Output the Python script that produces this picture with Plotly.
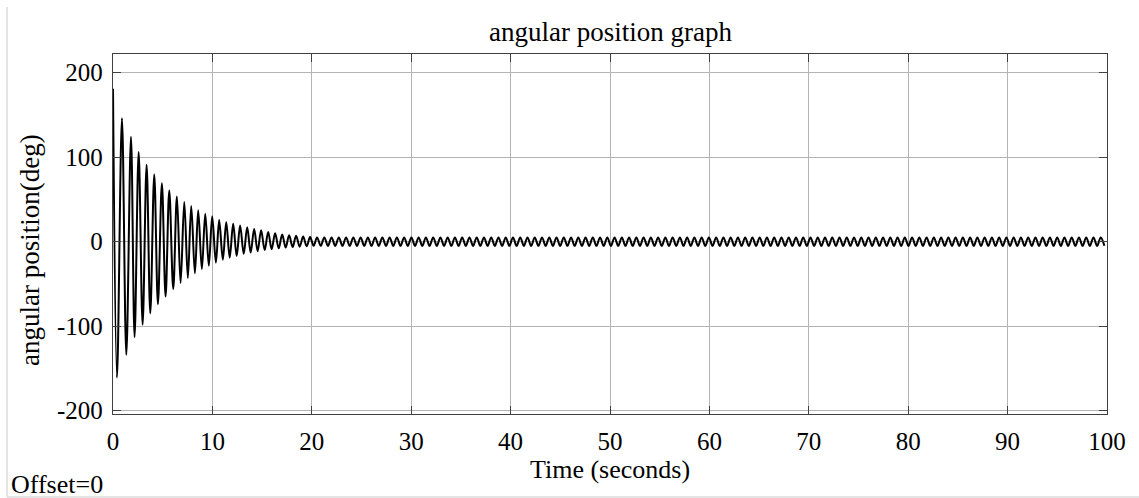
import plotly.graph_objects as go

# ---- data ----
start_t = [0.0]
start_val = [181.0]

# decaying part: peak / trough times (s) and values (deg)
trough_t = [0.40, 1.34, 2.17, 2.98, 3.75, 4.52, 5.29, 6.06, 6.80, 7.53, 8.24, 8.94, 9.64, 10.35,
            11.05, 11.74, 12.44, 13.15, 13.85, 14.55, 15.26, 15.96, 16.67, 17.37, 18.07, 18.78,
            19.48, 20.18]
trough_val = [-161, -134, -113, -98.5, -85, -74, -65, -56, -49, -43, -37.5, -32.5, -28.5, -25,
              -21.5, -19, -17, -14.5, -13, -11.5, -10, -9, -8, -7, -6.5, -6, -5.5, -5]
peak_t = [0.90, 1.81, 2.58, 3.38, 4.15, 4.92, 5.66, 6.43, 7.17, 7.87, 8.57, 9.28, 9.98, 10.68,
          11.39, 12.09, 12.79, 13.50, 14.20, 14.90, 15.61, 16.31, 17.02, 17.72, 18.42, 19.13,
          19.83, 20.53]
peak_val = [146, 124, 106, 91, 79.5, 69, 60.5, 53.5, 47, 42, 37, 33, 30, 25.5, 23, 21, 19, 17,
            15, 13.5, 11.5, 10, 8.5, 7.5, 7, 6, 5.5, 5]

# steady-state oscillation after ~20.5 s: alternating extrema (deg)
steady_half_period = 0.365
steady_vals = [
    -5.0, 5.0, -5.0, 5.0, -5.0, 5.0, -5.0, 5.0, -5.0, 5.0, -5.0, 5.0, -5.0, 5.0, -5.0, 5.0, -5.0, 5.0,
    -5.0, 5.0, -5.0, 5.0, -5.0, 5.0, -5.0, 5.0, -5.0, 5.0, -5.0, 5.0, -5.0, 5.0, -5.0, 5.0, -5.0, 5.0,
    -5.0, 5.0, -5.0, 5.0, -5.0, 5.0, -5.0, 5.0, -5.0, 5.0, -5.0, 5.0, -5.0, 5.0, -5.0, 5.0, -5.0, 5.0,
    -5.0, 5.0, -5.0, 5.0, -5.0, 5.0, -5.0, 5.0, -5.0, 5.0, -5.0, 5.0, -5.0, 5.0, -5.0, 5.0, -5.0, 5.0,
    -5.0, 5.0, -5.0, 5.0, -5.0, 5.0, -5.0, 5.0, -5.0, 5.0, -5.0, 5.0, -5.0, 5.0, -5.0, 5.0, -5.0, 5.0,
    -5.0, 5.0, -5.0, 5.0, -5.0, 5.0, -5.0, 5.0, -5.0, 5.0, -5.0, 5.0, -5.0, 5.0, -5.0, 5.0, -5.0, 5.0,
    -5.0, 5.0, -5.0, 5.0, -5.0, 5.0, -5.0, 5.0, -5.0, 5.0, -5.0, 5.0, -5.0, 5.0, -5.0, 5.0, -5.0, 5.0,
    -5.0, 5.0, -5.0, 5.0, -5.0, 5.0, -5.0, 5.0, -5.0, 5.0, -5.0, 5.0, -5.0, 5.0, -5.0, 5.0, -5.0, 5.0,
    -5.0, 5.0, -5.0, 5.0, -5.0, 5.0, -5.0, 5.0, -5.0, 5.0, -5.0, 5.0, -5.0, 5.0, -5.0, 5.0, -5.0, 5.0,
    -5.0, 5.0, -5.0, 5.0, -5.0, 5.0, -5.0, 5.0, -5.0, 5.0, -5.0, 5.0, -5.0, 5.0, -5.0, 5.0, -5.0, 5.0,
    -5.0, 5.0, -5.0, 5.0, -5.0, 5.0, -5.0, 5.0, -5.0, 5.0, -5.0, 5.0, -5.0, 5.0, -5.0, 5.0, -5.0, 5.0,
    -5.0, 5.0, -5.0, 5.0, -5.0, 5.0, -5.0, 5.0, -5.0, 5.0, -5.0, 5.0, -5.0, 5.0, -5.0, 5.0, -5.0, 5.0,
    -5.0,
]

x_ticks = [0, 10, 20, 30, 40, 50, 60, 70, 80, 90, 100]
y_ticks = [-200, -100, 0, 100, 200]
y_ticktext = ["-200", "-100", "0", "100", "200"]

# ---- assemble the series ----
t = list(start_t)
y = list(start_val)
for tt, tv, pt, pv in zip(trough_t, trough_val, peak_t, peak_val):
    t += [tt, pt]
    y += [tv, pv]
last_t = peak_t[-1]
for i, v in enumerate(steady_vals):
    t.append(last_t + (i + 1) * steady_half_period)
    y.append(v)

FONT = "Liberation Serif"
W, H = 1139, 498
L, R, T, B = 113, 32, 54, 84
PW, PH = W - L - R, H - T - B


def px(xp):
    return (xp - L) / PW


def py(yp):
    return (H - B - yp) / PH


fig = go.Figure(go.Scatter(
    x=t, y=y, mode="lines",
    line=dict(color="black", width=2, shape="spline", smoothing=1.0),
    hoverinfo="skip", showlegend=False,
))

axis_common = dict(
    showgrid=True, gridcolor="#b4b4b4", gridwidth=1,
    showline=True, linecolor="#404040", linewidth=1.3, mirror="ticks",
    ticks="inside", ticklen=8, tickcolor="#404040", tickwidth=1,
    tickfont=dict(family=FONT, size=25, color="black"),
    zeroline=False,
)

fig.update_layout(
    width=W, height=H,
    margin=dict(l=L, r=R, t=T, b=B),
    paper_bgcolor="white", plot_bgcolor="white",
    xaxis=dict(range=[0, 100], tickvals=x_ticks, ticklabelstandoff=5, **axis_common),
    yaxis=dict(range=[-204, 222], tickvals=y_ticks, ticktext=y_ticktext,
               ticklabelstandoff=4, **axis_common),
    annotations=[
        dict(text="angular position graph", xref="paper", yref="paper",
             x=px(610), y=py(32), xanchor="center", yanchor="middle",
             showarrow=False, font=dict(family=FONT, size=27, color="black")),
        dict(text="Time (seconds)", xref="paper", yref="paper",
             x=px(610), y=py(470), xanchor="center", yanchor="middle",
             showarrow=False, font=dict(family=FONT, size=26, color="black")),
        dict(text="angular position(deg)", xref="paper", yref="paper",
             x=px(30), y=py(250), xanchor="center", yanchor="middle", textangle=-90,
             showarrow=False, font=dict(family=FONT, size=27, color="black")),
        dict(text="Offset=0", xref="paper", yref="paper",
             x=px(9), y=py(484), xanchor="left", yanchor="middle",
             showarrow=False, font=dict(family=FONT, size=26, color="black")),
    ],
    shapes=[
        dict(type="line", xref="paper", yref="paper", x0=px(7), x1=px(7), y0=py(7), y1=py(497),
             line=dict(color="#e4e4e4", width=2)),
        dict(type="line", xref="paper", yref="paper", x0=px(7), x1=px(1139), y0=py(497), y1=py(497),
             line=dict(color="#e4e4e4", width=2)),
    ],
)

fig.write_html("out.html")
